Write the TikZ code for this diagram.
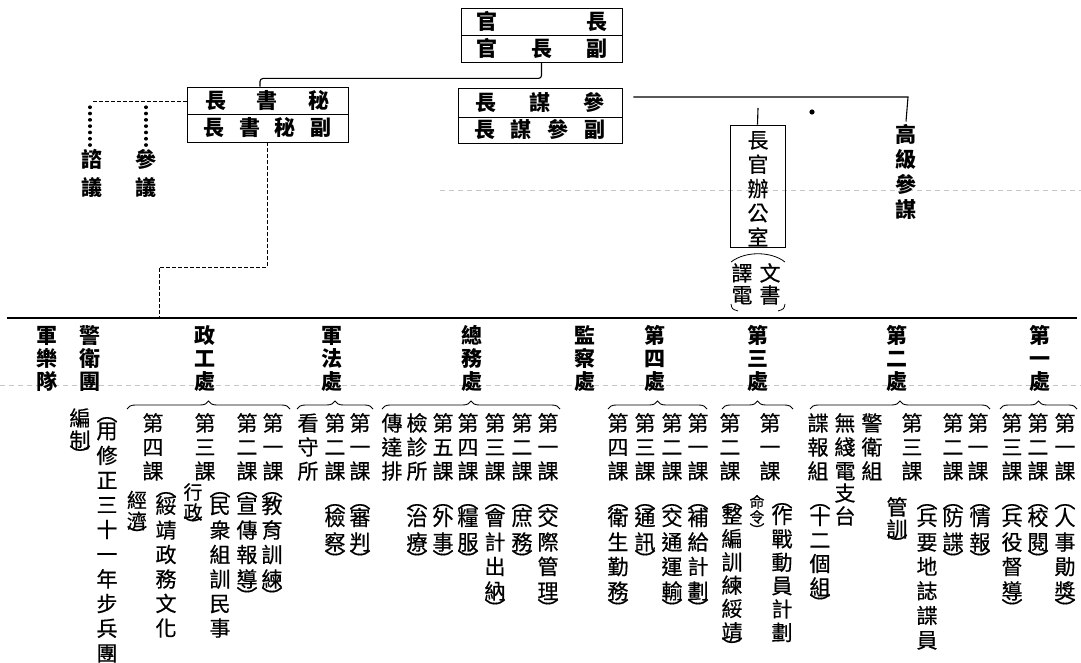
\documentclass[tikz,border=0pt]{standalone}
\usepackage{fontspec}
\newfontfamily\cjkr[FakeBold=0.5]{Noto Sans CJK TC}
\newfontfamily\cjkb{Noto Sans CJK TC}
\usetikzlibrary{decorations.pathreplacing}
\newcommand\op{︵\\[-7pt]}
\newcommand\cp{\\[-7pt]︶}
\newcommand\cs{\rule[-.12em]{0pt}{1em}}
\newcommand\hf{\hfill}
\newcommand\hd{\cjkb\bfseries}
\newcommand\vcol[7][\cjkr]{\node[vtxt,font={#1\fontsize{#5}{#6}\selectfont}] (#2) at (#3,{#4-#5/2}) {\rule{0pt}{0.88em}#7};}
\tikzset{
  vtxt/.style={anchor=north,align=center,inner sep=0pt,outer sep=0pt},
  brow/.style={draw,line width=0.9pt,inner sep=0pt,font=\cjkb\bfseries\fontsize{21}{21}\selectfont},
  conn/.style={line width=1.1pt},
  dashc/.style={line width=0.8pt,dash pattern=on 4pt off 2pt},
  dotc/.style={line width=3.2pt,line cap=round,dash pattern=on 0.5pt off 5.8pt},
  bracec/.style={line width=0.9pt,decorate,decoration={brace,amplitude=8pt}},
  faint/.style={gray!45,line width=0.5pt,dash pattern=on 5pt off 4pt}
}
\begin{document}
\begin{tikzpicture}[x=1pt,y=-1pt]
\useasboundingbox (0,0) rectangle (1081,663);
% faint ruled lines
\draw[faint] (440,190) -- (1081,190);
\draw[faint] (0,385) -- (1081,385);
% top boxes
\node[brow,minimum width=161pt,minimum height=27pt] (chief1) at (541.5,21.5) {\cs\makebox[131pt][s]{官\hf{}長}};
\node[brow,minimum width=161pt,minimum height=27pt] (chief2) at (541.5,48.5) {\cs\makebox[131pt][s]{官\hf{}長\hf{}副}};
\node[brow,minimum width=164pt,minimum height=29pt] (cos1) at (540,102.5) {\cs\makebox[129pt][s]{長\hf{}謀\hf{}參}};
\node[brow,minimum width=164pt,minimum height=26pt] (cos2) at (540,130) {\cs\makebox[132pt][s]{長\hf{}謀\hf{}參\hf{}副}};
\node[brow,minimum width=161pt,minimum height=27pt] (sec1) at (267.5,100.5) {\cs\makebox[125pt][s]{長\hf{}書\hf{}秘}};
\node[brow,minimum width=161pt,minimum height=28pt] (sec2) at (267.5,128) {\cs\makebox[128pt][s]{長\hf{}書\hf{}秘\hf{}副}};
% office box and senior staff
\node[draw,line width=0.9pt,minimum width=55pt,minimum height=122pt,inner sep=0pt] (office) at (757.5,186) {};
\vcol{officeT}{758}{140}{21}{24.3}{長\\官\\辦\\公\\室}
\vcol{wen}{770}{273}{21}{22}{文\\書}
\vcol{yi}{742}{273}{21}{22}{譯\\電}
\draw[line width=0.8pt] (731,262) .. controls (745,251) and (771,251) .. (785,262);
\draw[line width=0.8pt] (731,304) .. controls (732,309) .. (738,311);
\draw[line width=0.8pt] (778,311) .. controls (784,309) .. (785,304);
\vcol[\hd]{senior}{906}{135}{21}{25}{高\\級\\參\\謀}
\vcol[\hd]{zy}{92}{160}{21}{28}{諮\\議}
\vcol[\hd]{cy}{146}{160}{21}{28}{參\\議}
% connectors top
\draw[conn,rounded corners=3pt] (chief2.south) -- ++(0,16) -| ([xshift=-7.5pt]sec1.north);
\coordinate (hR) at (908,97);
\draw[conn] ([xshift=11pt,yshift=5.5pt]cos1.east) -- (hR) -- ([yshift=3pt]senior.north);
\coordinate (oS) at (758,108);
\draw[conn] (oS) -- (office.north);
\coordinate (dl) at (92,101.5);
\draw[dashc] ([yshift=-1pt]sec1.west) -- (dl);
\coordinate (d1) at (90,107);
\coordinate (d2) at (146,107);
\draw[dotc] (d1) -- ([yshift=2pt]d1 |- zy.north);
\draw[dotc] (d2) -- ([yshift=2pt]d2 |- cy.north);
\fill (812,112) circle (2.6pt);
% main line
\coordinate (ML) at (7,318);
\coordinate (MR) at (1077,318);
\coordinate (jL) at (159,267);
\draw[dashc] (sec2.south) |- (jL) -- (jL |- ML);
\draw[conn] (ML) -- (MR);
% headers
\vcol[\hd]{h0}{47}{336}{21}{23}{軍\\樂\\隊}
\vcol[\hd]{h1}{90}{336}{21}{23}{警\\衛\\團}
\vcol[\hd]{h2}{205}{336}{21}{23}{政\\工\\處}
\vcol[\hd]{h3}{332}{336}{21}{23}{軍\\法\\處}
\vcol[\hd]{h4}{472}{336}{21}{23}{總\\務\\處}
\vcol[\hd]{h5}{585}{336}{21}{23}{監\\察\\處}
\vcol[\hd]{h6}{655}{336}{21}{23}{第\\四\\處}
\vcol[\hd]{h7}{758}{336}{21}{23}{第\\三\\處}
\vcol[\hd]{h8}{897}{336}{21}{23}{第\\二\\處}
\vcol[\hd]{h9}{1040}{336}{21}{23}{第\\一\\處}
% braces
\draw[bracec] (127,409) -- (290,409);
\draw[bracec] (297,409) -- (373,409);
\draw[bracec] (382,409) -- (560,409);
\draw[bracec] (608,409) -- (707,409);
\draw[bracec] (722,409) -- (793,409);
\draw[bracec] (810,409) -- (990,409);
\draw[bracec] (1000,409) -- (1077,409);
% guard regiment note
\vcol{n1a}{107}{413}{21}{24.7}{\op 用\\修\\正\\三\\十\\一\\年\\步\\兵\\團}
\vcol{n1b}{80}{418}{21}{22}{編\\制\cp}
% political work dept
\vcol{s2a}{273}{423}{21}{24}{第\\一\\課}
\vcol{s2b}{247}{423}{21}{24}{第\\二\\課}
\vcol{s2c}{205}{423}{21}{24}{第\\三\\課}
\vcol{s2d}{153}{423}{21}{24}{第\\四\\課}
\vcol{d2a}{272}{488}{21}{24.5}{\op 教\\育\\訓\\練\cp}
\vcol{d2b}{247}{488}{21}{24.5}{\op 宣\\傳\\報\\導\cp}
\vcol{d2c}{220}{488}{21}{24.5}{\op 民\\衆\\組\\訓\\民\\事}
\vcol{d2c2}{193}{492}{19}{20}{行\\政\cp}
\vcol{d2d}{166}{488}{21}{24.5}{\op 綏\\靖\\政\\務\\文\\化}
\vcol{d2d2}{137}{500}{20}{21}{經\\濟\cp}
% military law dept
\vcol{s3a}{360}{423}{21}{24}{第\\一\\課}
\vcol{s3b}{335}{423}{21}{24}{第\\二\\課}
\vcol{s3c}{308}{423}{21}{24}{看\\守\\所}
\vcol{d3a}{360}{500}{21}{24.5}{\op 審\\判\cp}
\vcol{d3b}{335}{500}{21}{24.5}{\op 檢\\察\cp}
% general affairs dept
\vcol{s4a}{548}{423}{21}{24}{第\\一\\課}
\vcol{s4b}{522}{423}{21}{24}{第\\二\\課}
\vcol{s4c}{495}{423}{21}{24}{第\\三\\課}
\vcol{s4d}{468}{423}{21}{24}{第\\四\\課}
\vcol{s4e}{443}{423}{21}{24}{第\\五\\課}
\vcol{s4f}{417}{423}{21}{24}{檢\\診\\所}
\vcol{s4g}{392}{423}{21}{24}{傳\\達\\排}
\vcol{d4a}{548}{500}{21}{24.5}{\op 交\\際\\管\\理\cp}
\vcol{d4b}{522}{500}{21}{24.5}{\op 庶\\務\cp}
\vcol{d4c}{495}{500}{21}{24.5}{\op 會\\計\\出\\納\cp}
\vcol{d4d}{468}{500}{21}{24.5}{\op 糧\\服\cp}
\vcol{d4e}{443}{500}{21}{24.5}{\op 外\\事\cp}
\vcol{d4f}{417}{500}{21}{24.5}{\op 治\\療\cp}
% 4th dept
\vcol{s6a}{698}{423}{21}{24}{第\\一\\課}
\vcol{s6b}{672}{423}{21}{24}{第\\二\\課}
\vcol{s6c}{645}{423}{21}{24}{第\\三\\課}
\vcol{s6d}{618}{423}{21}{24}{第\\四\\課}
\vcol{d6a}{698}{500}{21}{24.5}{\op 補\\給\\計\\劃\cp}
\vcol{d6b}{672}{500}{21}{24.5}{\op 交\\通\\運\\輸\cp}
\vcol{d6c}{645}{500}{21}{24.5}{\op 通\\訊\cp}
\vcol{d6d}{618}{500}{21}{24.5}{\op 衛\\生\\勤\\務\cp}
% 3rd dept
\vcol{s7a}{770}{423}{21}{24}{第\\一\\課}
\vcol{s7b}{730}{423}{21}{24}{第\\二\\課}
\vcol{d7a}{782}{499}{21}{23.4}{\op 作\\戰\\動\\員\\計\\劃}
\vcol{d7a2}{757}{502}{15}{15}{命\\令\\[-2pt]︶}
\vcol{d7b}{732}{499}{21}{23.3}{\op 整\\編\\訓\\練\\綏\\靖\\[-8pt]︶}
% 2nd dept
\vcol{s8a}{978}{423}{21}{24}{第\\一\\課}
\vcol{s8b}{953}{423}{21}{24}{第\\二\\課}
\vcol{s8c}{912}{423}{21}{24}{第\\三\\課}
\vcol{s8d}{872}{423}{21}{24}{警\\衛\\組}
\vcol{s8e}{845}{423}{21}{24}{無\\綫\\電}
\vcol{s8f}{818}{423}{21}{24}{諜\\報\\組}
\vcol{d8e}{845}{493}{21}{23}{支\\台}
\vcol{d8f}{820}{500}{21}{23.5}{\op 十\\二\\個\\組\cp}
\vcol{d8c}{897}{507}{21}{22}{管\\訓\cp}
\vcol{d8b2}{927}{500}{21}{24.5}{\op 兵\\要\\地\\誌\\諜\\員}
\vcol{d8b}{953}{500}{21}{24.5}{\op 防\\諜\cp}
\vcol{d8a}{980}{500}{21}{24.5}{\op 情\\報\cp}
% 1st dept
\vcol{s9a}{1065}{423}{21}{24}{第\\一\\課}
\vcol{s9b}{1038}{423}{21}{24}{第\\二\\課}
\vcol{s9c}{1012}{423}{21}{24}{第\\三\\課}
\vcol{d9a}{1065}{500}{21}{24.5}{\op 人\\事\\勛\\獎\cp}
\vcol{d9b}{1038}{500}{21}{24.5}{\op 校\\閱\cp}
\vcol{d9c}{1012}{500}{21}{24.5}{\op 兵\\役\\督\\導\cp}
\end{tikzpicture}
\end{document}
